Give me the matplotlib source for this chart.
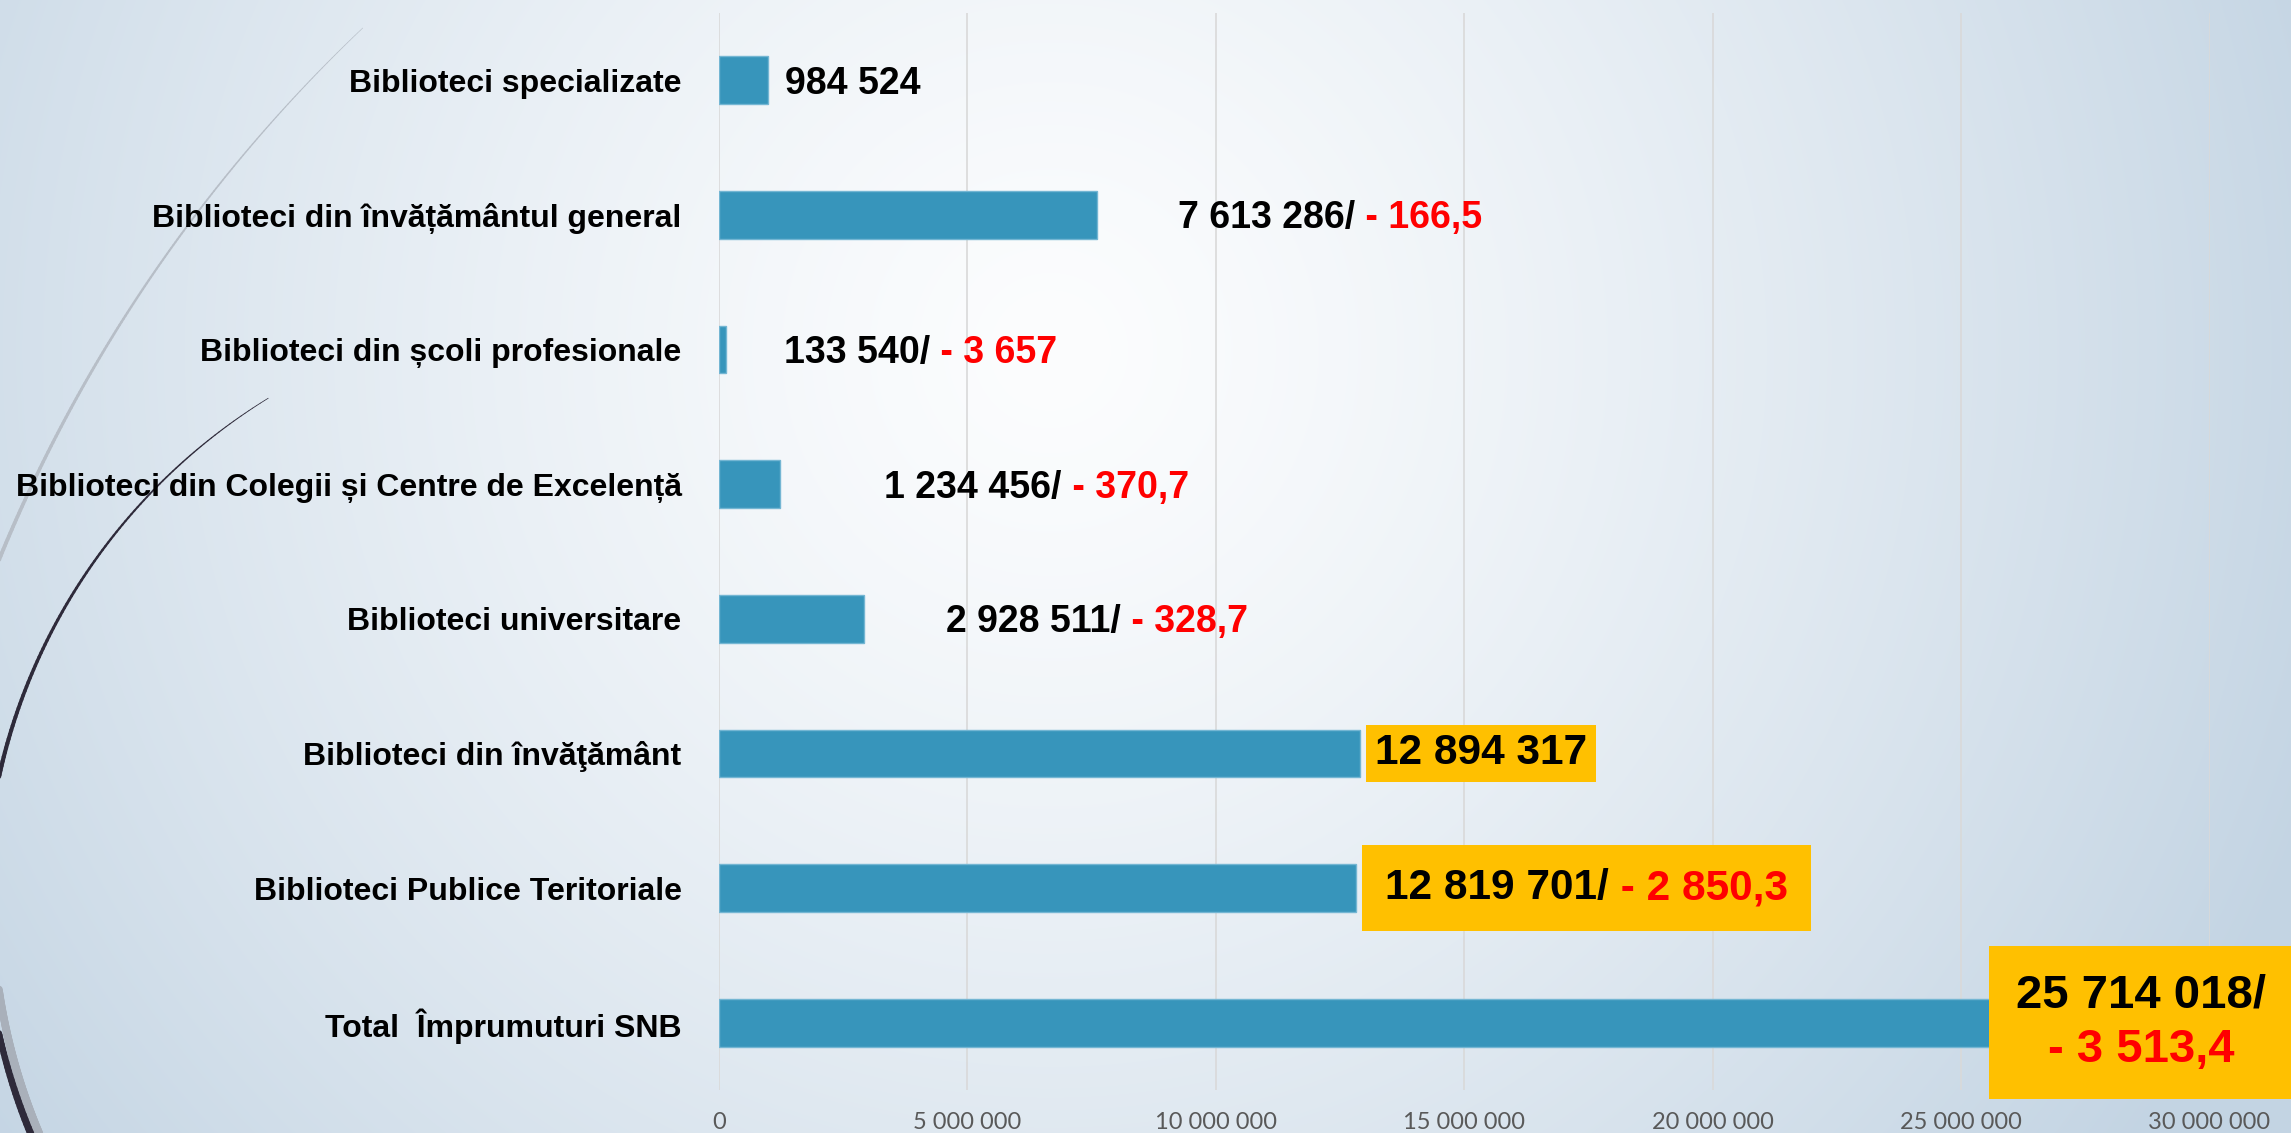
import numpy as np
import matplotlib.pyplot as plt
from matplotlib.collections import LineCollection
from matplotlib.patches import Rectangle
from matplotlib.transforms import Bbox, IdentityTransform

plt.rcParams['font.family'] = ['Liberation Sans', 'DejaVu Sans']

# Date (de sus in jos)
categories = [
    "Biblioteci specializate",
    "Biblioteci din învățământul general",
    "Biblioteci din școli profesionale",
    "Biblioteci din Colegii și Centre de Excelență",
    "Biblioteci universitare",
    "Biblioteci din învăţământ",
    "Biblioteci Publice Teritoriale",
    "Total  Împrumuturi SNB",
]
values = [984524, 7613286, 133540, 1234456, 2928511, 12894317, 12819701, 25714018]
changes = [None, "- 166,5", "- 3 657", "- 370,7", "- 328,7", None, "- 2 850,3", "- 3 513,4"]
highlighted = [False, False, False, False, False, True, True, True]
x_ticks = [0, 5000000, 10000000, 15000000, 20000000, 25000000, 30000000]

# decalaj etichete fata de capatul barei (puncte) si marginea casetei galbene (pixeli)
label_offsets = [12, 58, 42, 75, 59, 11, 21, 104]
box_pads = [0, 0, 0, 0, 0, 8.5, 23.3, 27.4]

W, H = 2291, 1133
fig = plt.figure(figsize=(W / 100, H / 100), dpi=100)

# fundal cu gradient
bg = fig.add_axes([0, 0, 1, 1], zorder=0)
yy, xx = np.mgrid[0:H, 0:W]
d = np.hypot(xx - 1050, yy - 350) / 1350
t = np.clip(d, 0, 1) ** 1.3
c0 = np.array([252, 253, 254]) / 255
c1 = np.array([195, 212, 227]) / 255
img = c0 + (c1 - c0) * t[..., None]
bg.imshow(img, extent=(0, W, H, 0), aspect='auto', interpolation='bilinear')
bg.set_xlim(0, W)
bg.set_ylim(H, 0)
bg.axis('off')


def arc(ax, cx, cy, r, a0, a1, w0, w1, color, n=200):
    th = np.radians(np.linspace(a0, a1, n))
    px = cx + r * np.cos(th)
    py = cy + r * np.sin(th)
    pts = np.column_stack([px, py]).reshape(-1, 1, 2)
    segs = np.concatenate([pts[:-1], pts[1:]], axis=1)
    lc = LineCollection(segs, linewidths=np.linspace(w0, w1, n - 1),
                        colors=color, capstyle='round')
    ax.add_collection(lc)


# arcuri decorative
arc(bg, 1418, 1140, 1533, 226.5, 200, 0.4, 3.0, '#b7bec7')
arc(bg, 588, 905, 595, 175, 150, 5.0, 7.0, '#a9b0ba')
arc(bg, 580, 905, 595, 238.4, 150, 0.5, 5.5, '#2e2a3a')

# grafic
ax = fig.add_axes([719 / W, 1 - 1090 / H, (2209.5 - 719) / W, (1090 - 13) / H], zorder=1)
ax.patch.set_alpha(0)

y = np.arange(len(categories))
ax.barh(y, values, height=0.355, color='#3795bb', edgecolor='#74b6d3',
        linewidth=1, zorder=3)

ax.set_xlim(0, 30000000)
ax.set_ylim(len(categories) - 0.5, -0.5)
ax.set_xticks(x_ticks, labels=[f"{v:,}".replace(",", " ") for v in x_ticks],
              fontfamily=['Lato', 'DejaVu Sans'], fontsize=17, color='#595959')
ax.set_yticks(y, labels=categories, fontsize=23, fontweight='bold')
ax.tick_params(axis='y', length=0, pad=27)
ax.tick_params(axis='x', length=0, pad=15.5)
ax.grid(axis='x', color='#d9d9d9', linewidth=1.2)
ax.set_axisbelow(True)
for s in ax.spines.values():
    s.set_visible(False)

# etichete valori
groups = []
for i, (v, ch, hl, off, bp) in enumerate(zip(values, changes, highlighted,
                                             label_offsets, box_pads)):
    main = f"{v:,}".replace(",", " ")
    if ch is not None:
        main += "/"
    is_total = i == len(values) - 1
    if not hl:
        t1 = ax.annotate(main, xy=(v, i), xytext=(off, -2.5), textcoords='offset points',
                         ha='left', va='center', fontsize=27, fontweight='bold',
                         color='black', zorder=5)
        if ch is not None:
            ax.annotate(" " + ch, xy=(1, 0), xycoords=t1, ha='left', va='bottom',
                        fontsize=27, fontweight='bold', color='#ff0000', zorder=5)
    elif is_total:
        t1 = ax.annotate(main, xy=(v, i), xytext=(off, 19.4), textcoords='offset points',
                         ha='center', va='center', fontsize=34, fontweight='bold',
                         color='black', zorder=6, annotation_clip=False)
        t2 = ax.annotate(ch, xy=(v, i), xytext=(off, -19.4), textcoords='offset points',
                         ha='center', va='center', fontsize=34, fontweight='bold',
                         color='#ff0000', zorder=6, annotation_clip=False)
        groups.append(([t1, t2], bp))
    else:
        t1 = ax.annotate(main, xy=(v, i), xytext=(off, 0), textcoords='offset points',
                         ha='left', va='center', fontsize=30.5, fontweight='bold',
                         color='black', zorder=6)
        parts = [t1]
        if ch is not None:
            parts.append(ax.annotate(" " + ch, xy=(1, 0), xycoords=t1, ha='left',
                                     va='bottom', fontsize=30.5, fontweight='bold',
                                     color='#ff0000', zorder=6))
        groups.append((parts, bp))

# casete galbene in jurul etichetelor evidentiate
fig.canvas.draw()
renderer = fig.canvas.get_renderer()
for parts, bp in groups:
    bb = Bbox.union([p.get_window_extent(renderer) for p in parts])
    ax.add_patch(Rectangle((bb.x0 - bp, bb.y0 - bp), bb.width + 2 * bp,
                           bb.height + 2 * bp, transform=IdentityTransform(),
                           facecolor='#ffc000', edgecolor='none', zorder=4,
                           clip_on=False))

fig.savefig('out.png', dpi=100)
